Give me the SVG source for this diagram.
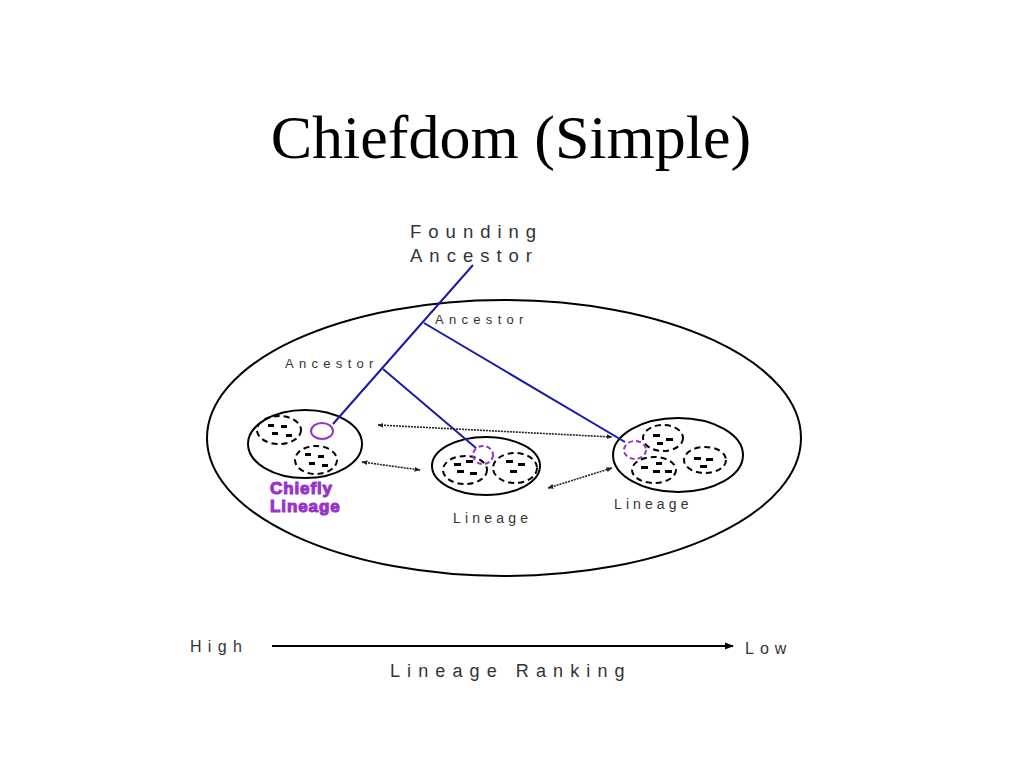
<svg xmlns="http://www.w3.org/2000/svg" width="1024" height="768" viewBox="0 0 1024 768">
<defs>
<style>
.lbl{font-family:"Liberation Sans",Arial,sans-serif;fill:#333;}
.solid{fill:none;stroke:#000;stroke-width:2;}
.dash{fill:none;stroke:#000;stroke-width:2;stroke-dasharray:6,4;}
.pur{fill:none;stroke:#9933cc;stroke-width:2;}
.purd{fill:none;stroke:#9933cc;stroke-width:2;stroke-dasharray:5,3;}
.blue{stroke:#1a1aaa;stroke-width:2;fill:none;}
.dot{stroke:#222;stroke-width:1.6;stroke-dasharray:2,1;fill:none;marker-start:url(#ah);marker-end:url(#ah);}
.bar{fill:#000;}
.chief{font-family:"Liberation Sans",Arial,sans-serif;font-weight:bold;font-size:17px;fill:#9933cc;stroke:#9933cc;stroke-width:1.1;letter-spacing:0.9px;}
</style>
<marker id="ah" viewBox="0 0 10 10" refX="9" refY="5" markerWidth="6" markerHeight="6" orient="auto-start-reverse" markerUnits="userSpaceOnUse">
<path d="M0,1 L10,5 L0,9 z" fill="#222"/>
</marker>
<marker id="ah2" viewBox="0 0 10 10" refX="9" refY="5" markerWidth="9" markerHeight="9" orient="auto" markerUnits="userSpaceOnUse">
<path d="M0,1 L10,5 L0,9 z" fill="#000"/>
</marker>
</defs>
<rect width="1024" height="768" fill="#fff"/>
<text x="511" y="158" text-anchor="middle" font-family="Liberation Serif,Times New Roman,serif" font-size="62" fill="#000">Chiefdom (Simple)</text>

<g id="chiefdom">
<ellipse cx="504" cy="438" rx="297" ry="138" class="solid"/>
</g>

<g id="founding-ancestor">
<text class="lbl" x="410" y="238" font-size="18.5" letter-spacing="7">Founding</text>
<text class="lbl" x="410" y="262" font-size="18.5" letter-spacing="7">Ancestor</text>
</g>
<g id="ancestor-1">
<text class="lbl" x="435" y="324" font-size="13" letter-spacing="5.3">Ancestor</text>
</g>
<g id="ancestor-2">
<text class="lbl" x="285" y="368" font-size="13" letter-spacing="5.3">Ancestor</text>
</g>

<g id="chiefly-lineage">
<ellipse cx="305" cy="444" rx="57" ry="34" class="solid"/>
<ellipse cx="279" cy="430" rx="22" ry="14" class="dash"/>
<rect class="bar" x="268" y="424" width="6" height="3"/><rect class="bar" x="281" y="425" width="6" height="3"/><rect class="bar" x="272" y="432" width="6" height="3"/><rect class="bar" x="286" y="434" width="6" height="3"/>
<ellipse cx="316" cy="460" rx="21" ry="14" class="dash"/>
<rect class="bar" x="305" y="453" width="6" height="3"/><rect class="bar" x="318" y="455" width="6" height="3"/><rect class="bar" x="309" y="462" width="6" height="3"/><rect class="bar" x="322" y="464" width="6" height="3"/>
<ellipse cx="322" cy="431" rx="11" ry="8" class="pur"/>
<text class="chief" x="270" y="494">Chiefly</text>
<text class="chief" x="270" y="512">Lineage</text>
</g>

<g id="lineage-middle">
<ellipse cx="486" cy="466" rx="54" ry="29" class="solid"/>
<ellipse cx="465" cy="470" rx="22" ry="14" class="dash"/>
<rect class="bar" x="454" y="463" width="7" height="3"/><rect class="bar" x="466" y="460" width="7" height="3"/><rect class="bar" x="457" y="470" width="7" height="3"/><rect class="bar" x="470" y="472" width="7" height="3"/>
<ellipse cx="515" cy="468" rx="22" ry="15" class="dash"/>
<rect class="bar" x="506" y="460" width="7" height="3"/><rect class="bar" x="518" y="463" width="7" height="3"/><rect class="bar" x="510" y="470" width="7" height="3"/>
<ellipse cx="483" cy="455" rx="10" ry="9" class="purd"/>
<text class="lbl" x="453" y="523" font-size="14" letter-spacing="4.2">Lineage</text>
</g>

<g id="lineage-right">
<ellipse cx="678" cy="455" rx="65" ry="37" class="solid"/>
<ellipse cx="663" cy="438" rx="20" ry="13" class="dash"/>
<rect class="bar" x="653" y="434" width="7" height="3"/><rect class="bar" x="666" y="438" width="7" height="3"/><rect class="bar" x="657" y="442" width="6" height="3"/>
<ellipse cx="654" cy="470" rx="22" ry="13" class="dash"/>
<rect class="bar" x="641" y="466" width="7" height="3"/><rect class="bar" x="653" y="470" width="7" height="3"/><rect class="bar" x="665" y="470" width="7" height="3"/><rect class="bar" x="656" y="462" width="6" height="3"/>
<ellipse cx="705" cy="460" rx="21" ry="13" class="dash"/>
<rect class="bar" x="694" y="457" width="7" height="3"/><rect class="bar" x="706" y="458" width="7" height="3"/><rect class="bar" x="700" y="465" width="7" height="3"/>
<ellipse cx="635" cy="450" rx="11" ry="9" class="purd"/>
<text class="lbl" x="614" y="509" font-size="14" letter-spacing="4.1">Lineage</text>
</g>

<g id="connectors">
<line class="blue" x1="473" y1="265" x2="333" y2="424"/>
<line class="blue" x1="424" y1="323" x2="625" y2="442"/>
<line class="blue" x1="383" y1="369" x2="476" y2="448"/>
<line class="dot" x1="378" y1="425" x2="612" y2="437"/>
<line class="dot" x1="362" y1="462" x2="420" y2="470"/>
<line class="dot" x1="548" y1="488" x2="612" y2="468"/>
</g>

<g id="ranking-axis">
<text class="lbl" x="190" y="652" font-size="16" letter-spacing="6.3">High</text>
<line x1="272" y1="646" x2="733" y2="646" stroke="#000" stroke-width="2" marker-end="url(#ah2)"/>
<text class="lbl" x="745" y="654" font-size="16" letter-spacing="6">Low</text>
<text class="lbl" x="390" y="677" font-size="18" letter-spacing="7.1">Lineage Ranking</text>
</g>
</svg>
